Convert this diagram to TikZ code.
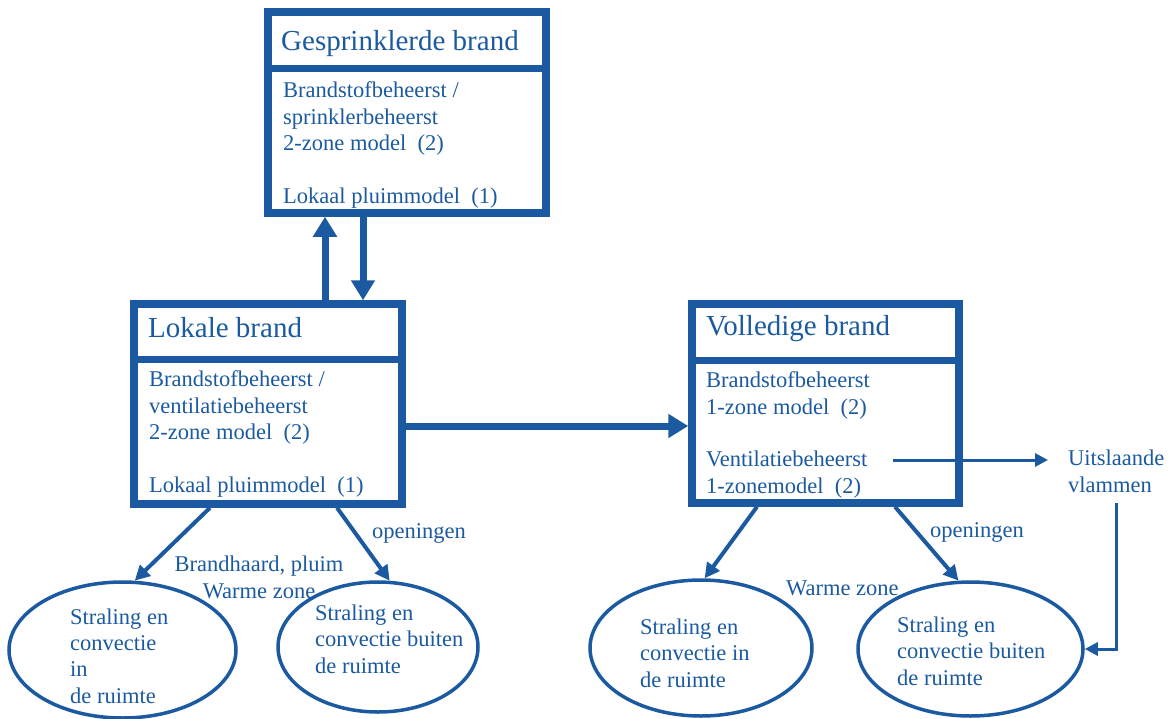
\documentclass[tikz,border=0pt]{standalone}
\usepackage{fontspec}
\setmainfont{Liberation Serif}
\usepackage{xcolor}
\usetikzlibrary{arrows.meta,shapes.geometric,positioning}
\definecolor{fireblue}{RGB}{27,90,160}

\begin{document}
\begin{tikzpicture}[x=1pt,y=-1pt,
  frame/.style={draw=fireblue,line width=7.5pt,inner sep=0pt},
  divider/.style={draw=fireblue,line width=7pt},
  titletext/.style={anchor=base west,inner sep=0pt,text=fireblue,font=\fontsize{29}{34}\selectfont},
  bodytext/.style={anchor=base west,inner sep=0pt,align=left,text=fireblue,font=\fontsize{22.5}{26.3}\selectfont},
  bubble/.style={draw=fireblue,ellipse,line width=3.5pt,inner sep=0pt},
  bigarrow/.style={draw=fireblue,line width=7pt,-{Triangle[length=20pt,width=23pt]}},
  midarrow/.style={draw=fireblue,line width=4pt,-{Triangle[length=15pt,width=15pt]}},
  thinarrow/.style={draw=fireblue,line width=3pt,-{Triangle[length=13pt,width=13pt]}}]
\useasboundingbox (0,0) rectangle (1176,718);

% boxes (multi-line texts sit on their last baseline)
\node[frame,minimum width=278pt,minimum height=201pt] (gespr) at (407,112.5) {};
\draw[divider] (gespr.west |- 0,68.5) -- (gespr.east |- 0,68.5);
\node[titletext] (gesprtitle) at (281,50) {Gesprinklerde brand};
\node[bodytext] (gesprbody) at (283,203) {Brandstofbeheerst /\\sprinklerbeheerst\\2-zone model~~(2)\\[26.3pt]Lokaal pluimmodel~~(1)};

\node[frame,minimum width=268pt,minimum height=200pt] (lokaal) at (268,404) {};
\draw[divider] (lokaal.west |- 0,359) -- (lokaal.east |- 0,359);
\node[titletext] (lokaaltitle) at (148,337) {Lokale brand};
\node[bodytext] (lokaalbody) at (149,492) {Brandstofbeheerst /\\ventilatiebeheerst\\2-zone model~~(2)\\[26.3pt]Lokaal pluimmodel~~(1)};

\node[frame,minimum width=267pt,minimum height=199pt] (volledig) at (825.5,403.5) {};
\draw[divider] (volledig.west |- 0,360) -- (volledig.east |- 0,360);
\node[titletext] (volledigtitle) at (706,335) {Volledige brand};
\node[bodytext] (volledigbody) at (706,493) {Brandstofbeheerst\\1-zone model~~(2)\\[26.3pt]Ventilatiebeheerst\\1-zonemodel~~(2)};

\node[bodytext,inner xsep=20pt,inner ysep=11pt] (uitsl) at (1048,492) {Uitslaande\\vlammen};

% ellipses
\node[bubble,minimum width=227pt,minimum height=136pt] (e1) at (122.5,650) {};
\node[bubble,minimum width=200pt,minimum height=130pt] (e2) at (378,647) {};
\node[bubble,minimum width=222pt,minimum height=136pt] (e3) at (701,648) {};
\node[bubble,minimum width=225pt,minimum height=134pt] (e4) at (970.5,649) {};
\node[bodytext] (e1text) at (70,703) {Straling en\\convectie\\in\\de ruimte};
\node[bodytext] (e2text) at (315,673) {Straling en\\convectie buiten\\de ruimte};
\node[bodytext] (e3text) at (640,687) {Straling en\\convectie in\\de ruimte};
\node[bodytext] (e4text) at (897,685) {Straling en\\convectie buiten\\de ruimte};

% arrow labels
\node[bodytext] (open1) at (372,538) {openingen};
\node[bodytext] (open2) at (930,537) {openingen};
\node[bodytext,anchor=base,align=center] (haard) at (259,598) {Brandhaard, pluim\\Warme zone};
\node[bodytext] (warm2) at (786,595) {Warme zone};

% connectors
\draw[bigarrow] (lokaal.north -| 325,0) -- (gespr.south -| 325,0);
\draw[bigarrow] (gespr.south -| 363,0) -- (lokaal.north -| 363,0);
\draw[bigarrow] (lokaal.east |- 0,426) -- (volledig.west |- 0,426);
\coordinate (ventend) at (893,460);
\draw[thinarrow] (ventend) -- (ventend -| uitsl.west);
\draw[thinarrow] (uitsl.south) |- (e4.east);
\draw[midarrow] (lokaal.south -| 210,0) -- (e1.80);
\draw[midarrow] (lokaal.south -| 337,0) -- (e2.80);
\draw[midarrow] (volledig.south -| 757,0) -- (e3.87);
\draw[midarrow] (volledig.south -| 895,0) -- (e4.100);
\end{tikzpicture}
\end{document}
